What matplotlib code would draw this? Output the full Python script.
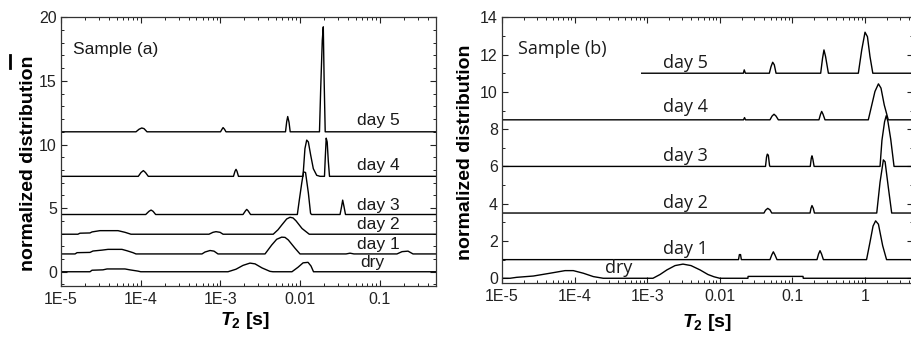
import numpy as np
import matplotlib
matplotlib.use("Agg")
import matplotlib.pyplot as plt
from matplotlib.ticker import FixedLocator, MultipleLocator, LogLocator, NullFormatter
from matplotlib.lines import Line2D

plt.rcParams["font.family"] = ["Liberation Sans", "DejaVu Sans"]
plt.rcParams["mathtext.fontset"] = "custom"
plt.rcParams["mathtext.it"] = "Liberation Sans:italic:bold"
plt.rcParams["mathtext.bf"] = "Liberation Sans:bold"
plt.rcParams["mathtext.rm"] = "Liberation Sans:bold"

# ── Daten: T2 [s] und Höhe über der jeweiligen Grundlinie ──

# Sample (a)
A_DRY_T2 = [1e-5, 2.31e-5, 2.45e-5, 3.36e-5, 3.78e-5, 6.35e-5, 7.3e-5, 9.25e-5, 1.0e-4,
            1.245e-3, 1.57e-3, 1.92e-3, 2.35e-3, 2.72e-3, 3.33e-3, 4.19e-3, 4.57e-3,
            7.9e-3, 9.4e-3, 0.0109, 0.01257, 0.0137, 0.01473, 0.6]
A_DRY_Y = [0, 0, 0.12, 0.15, 0.22, 0.22, 0.15, 0.05, 0,
           0, 0.2, 0.5, 0.68, 0.62, 0.3, 0.03, 0,
           0, 0.35, 0.7, 0.74, 0.45, 0, 0]

A_DAY1_T2 = [1e-5, 1.5e-5, 1.59e-5, 2.31e-5, 2.52e-5, 3.27e-5, 3.89e-5, 5.82e-5, 6.73e-5, 8.0e-5, 8.73e-5,
             5.87e-4, 6.41e-4, 7.41e-4, 8.31e-4, 9.33e-4,
             3.63e-3, 4.4e-3, 5.08e-3, 5.87e-3, 6.47e-3, 7.11e-3, 8.63e-3, 9.97e-3,
             0.0377, 0.0423, 0.0474,
             0.164, 0.19, 0.226, 0.261, 0.6]
A_DAY1_Y = [0, 0, 0.1, 0.12, 0.23, 0.3, 0.36, 0.36, 0.25, 0.1, 0,
            0, 0.15, 0.27, 0.22, 0,
            0, 0.7, 1.15, 1.32, 1.3, 1.1, 0.45, 0,
            0, 0.06, 0,
            0, 0.18, 0.22, 0, 0]

A_DAY2_T2 = [1e-5, 1.63e-5, 1.73e-5, 2.31e-5, 2.45e-5, 3.08e-5, 5.19e-5, 6.35e-5, 7.55e-5,
             7.19e-4, 8.07e-4, 8.8e-4, 9.9e-4, 1.08e-3,
             4.6e-3, 5.28e-3, 5.93e-3, 6.79e-3, 7.47e-3, 8.15e-3, 8.89e-3, 0.01057, 0.01303, 0.6]
A_DAY2_Y = [0, 0, 0.08, 0.1, 0.18, 0.28, 0.28, 0.15, 0,
            0, 0.15, 0.2, 0.15, 0,
            0, 0.35, 0.75, 1.2, 1.33, 1.28, 1.05, 0.45, 0, 0]

A_DAY3_T2 = [1e-5, 1.156e-4, 1.27e-4, 1.35e-4, 1.43e-4, 1.54e-4,
             1.92e-3, 2.07e-3, 2.14e-3, 2.22e-3, 2.39e-3,
             9.23e-3, 9.78e-3, 0.01047, 0.01104, 0.0117, 0.01269, 0.01352, 0.0139,
             0.0317, 0.0331, 0.0342, 0.0356, 0.0371, 0.6]
A_DAY3_Y = [0, 0, 0.25, 0.35, 0.25, 0,
            0, 0.3, 0.4, 0.3, 0,
            0, 1.15, 2.45, 3.35, 3.3, 1.7, 0.1, 0,
            0, 0.6, 1.13, 0.6, 0, 0]

A_DAY4_T2 = [1e-5, 9.33e-5, 1.009e-4, 1.08e-4, 1.148e-4, 1.245e-4,
             1.459e-3, 1.524e-3, 1.57e-3, 1.615e-3, 1.685e-3,
             0.01087, 0.0115, 0.0121, 0.01269, 0.01359, 0.01465, 0.01615, 0.01778,
             0.02022, 0.0207, 0.02125, 0.02187, 0.02258, 0.02338, 0.6]
A_DAY4_Y = [0, 0, 0.3, 0.45, 0.3, 0,
            0, 0.4, 0.55, 0.4, 0,
            0, 2.18, 2.85, 2.7, 1.65, 0.6, 0.08, 0,
            0, 1.5, 3.0, 2.7, 1.2, 0, 0]

A_DAY5_T2 = [1e-5, 8.73e-5, 9.53e-5, 1.03e-4, 1.1e-4, 1.2e-4,
             1.003e-3, 1.047e-3, 1.08e-3, 1.126e-3, 1.175e-3,
             6.56e-3, 6.79e-3, 6.99e-3, 7.26e-3, 7.51e-3,
             0.0175, 0.01813, 0.01898, 0.01954, 0.02, 0.02065, 0.6]
A_DAY5_Y = [0, 0, 0.2, 0.3, 0.25, 0,
            0, 0.2, 0.33, 0.2, 0,
            0, 0.8, 1.2, 0.75, 0,
            0, 3.4, 7.2, 8.25, 4.2, 0, 0]

# Sample (b)
B_DRY_T2 = [1e-5, 1.29e-5, 1.59e-5, 2.7e-5, 4.58e-5, 7.38e-5, 9.6e-5, 1.32e-4, 1.81e-4, 2.48e-4,
            1.2e-3, 1.5e-3, 1.87e-3, 2.42e-3, 3.11e-3, 4.01e-3, 5.33e-3, 6.88e-3, 8.32e-3, 0.01,
            0.0244, 0.0245, 0.14, 0.141, 6.0]
B_DRY_Y = [0, 0, 0.05, 0.12, 0.27, 0.41, 0.41, 0.27, 0.09, 0,
           0, 0.2, 0.45, 0.68, 0.76, 0.68, 0.45, 0.2, 0.08, 0,
           0, 0.1, 0.1, 0, 0]

B_DAY1_T2 = [1e-5, 0.0181, 0.0186, 0.0193, 0.0198,
             0.0491, 0.0519, 0.0546, 0.0575, 0.0613,
             0.218, 0.229, 0.24, 0.252, 0.267,
             1.05, 1.17, 1.29, 1.4, 1.53, 1.75, 1.98, 6.0]
B_DAY1_Y = [0, 0, 0.27, 0.27, 0,
            0, 0.25, 0.42, 0.25, 0,
            0, 0.3, 0.48, 0.3, 0,
            0, 0.93, 1.8, 2.08, 1.9, 0.75, 0, 0]

B_DAY2_T2 = [1e-5, 0.0406, 0.0426, 0.0457, 0.0491, 0.0519,
             0.175, 0.18, 0.186, 0.194, 0.201,
             1.45, 1.61, 1.79, 1.89, 2.09, 2.33, 6.0]
B_DAY2_Y = [0, 0, 0.15, 0.25, 0.17, 0,
            0, 0.25, 0.4, 0.25, 0,
            0, 1.65, 2.85, 2.75, 1.4, 0, 0]

B_DAY3_T2 = [1e-5, 0.0426, 0.044, 0.0451, 0.0466, 0.0484, 0.0491,
             0.176, 0.182, 0.186, 0.191, 0.199,
             1.61, 1.71, 1.86, 1.96, 2.07, 2.26, 2.51, 6.0]
B_DAY3_Y = [0, 0, 0.5, 0.66, 0.6, 0.05, 0,
            0, 0.45, 0.57, 0.4, 0,
            0, 1.4, 2.4, 2.72, 2.4, 1.46, 0, 0]

B_DAY4_T2 = [1e-5, 0.0212, 0.0219, 0.0226,
             0.0491, 0.0524, 0.0558, 0.0595, 0.064,
             0.232, 0.244, 0.253, 0.264, 0.281,
             1.11, 1.24, 1.37, 1.53, 1.66, 1.84, 2.09, 6.0]
B_DAY4_Y = [0, 0, 0.12, 0,
            0, 0.2, 0.3, 0.2, 0,
            0, 0.3, 0.45, 0.3, 0,
            0, 0.8, 1.52, 1.93, 1.7, 0.8, 0, 0]

B_DAY5_T2 = [8.4e-4, 0.0211, 0.0217, 0.0225,
             0.0481, 0.0507, 0.0535, 0.0563, 0.0595,
             0.245, 0.26, 0.272, 0.286, 0.313,
             0.809, 0.901, 1.0, 1.08, 1.17, 1.28, 6.0]
B_DAY5_Y = [0, 0, 0.18, 0,
            0, 0.35, 0.59, 0.45, 0,
            0, 0.8, 1.25, 0.9, 0,
            0, 1.25, 2.2, 1.96, 0.9, 0, 0]

LABELS = ["dry", "day 1", "day 2", "day 3", "day 4", "day 5"]
OFFSETS_A = [0, 1.4, 2.95, 4.5, 7.5, 11]
OFFSETS_B = [0, 1, 3.5, 6, 8.5, 11]

CURVES_A = [(A_DRY_T2, A_DRY_Y), (A_DAY1_T2, A_DAY1_Y), (A_DAY2_T2, A_DAY2_Y),
            (A_DAY3_T2, A_DAY3_Y), (A_DAY4_T2, A_DAY4_Y), (A_DAY5_T2, A_DAY5_Y)]
CURVES_B = [(B_DRY_T2, B_DRY_Y), (B_DAY1_T2, B_DAY1_Y), (B_DAY2_T2, B_DAY2_Y),
            (B_DAY3_T2, B_DAY3_Y), (B_DAY4_T2, B_DAY4_Y), (B_DAY5_T2, B_DAY5_Y)]

XTICKS = [1e-5, 1e-4, 1e-3, 1e-2, 1e-1, 1]
XTICKLABELS = ["1E-5", "1E-4", "1E-3", "0.01", "0.1", "1"]

# Textpositionen (x, y-Unterkante) in Datenkoordinaten
LABEL_POS_A = [(0.0575, 0.13), (0.052, 1.57), (0.052, 3.14), (0.052, 4.59), (0.052, 7.74), (0.052, 11.27)]
LABEL_POS_B = [(2.63e-4, 0.09), (1.67e-3, 1.07), (1.67e-3, 3.57), (1.67e-3, 6.08), (1.67e-3, 8.7), (1.67e-3, 11.09)]

W, H = 911, 337
fig = plt.figure(figsize=(W / 100, H / 100), dpi=100)


def px_axes(x0, x1, ytop, ybot):
    return fig.add_axes([x0 / W, 1 - ybot / H, (x1 - x0) / W, (ybot - ytop) / H])


def style_axes(ax, xlim, ylim, ymajor, yminor):
    ax.set_xscale("log")
    ax.set_xlim(*xlim)
    ax.set_ylim(*ylim)
    ax.xaxis.set_major_locator(FixedLocator(XTICKS))
    ax.set_xticklabels(XTICKLABELS)
    ax.xaxis.set_minor_locator(LogLocator(base=10, subs=np.arange(2, 10), numticks=20))
    ax.xaxis.set_minor_formatter(NullFormatter())
    ax.yaxis.set_major_locator(MultipleLocator(ymajor))
    ax.yaxis.set_minor_locator(MultipleLocator(yminor))
    ax.tick_params(which="both", direction="in", top=True, right=True,
                   colors="#222222", labelsize=11.5)
    ax.tick_params(which="major", length=4.5, width=0.8)
    ax.tick_params(which="minor", length=2.5, width=0.7)
    ax.tick_params(axis="x", pad=4)
    ax.tick_params(axis="y", pad=3)
    for sp in ax.spines.values():
        sp.set_color("#333333")
        sp.set_linewidth(0.9)


# ── Panel (a) ──
ax_a = px_axes(61, 436, 17.3, 286)
for (t2, y), off in zip(CURVES_A, OFFSETS_A):
    ax_a.plot(t2, off + np.array(y), color="black", lw=1.0)
style_axes(ax_a, (1e-5, 0.507), (-1.12, 20), 5, 1)
for lbl, (x, y) in zip(LABELS, LABEL_POS_A):
    ax_a.text(x, y, lbl, fontsize=12.5, ha="left", va="bottom", color="#1a1a1a")
ax_a.text(1.43e-5, 17.5, "Sample (a)", fontsize=12.5, ha="left", va="center", color="#1a1a1a")

# ── Panel (b) ──
ax_b = px_axes(502, 913, 17.3, 283.3)
for (t2, y), off in zip(CURVES_B, OFFSETS_B):
    ax_b.plot(t2, off + np.array(y), color="black", lw=1.0)
style_axes(ax_b, (1e-5, 4.58), (-0.27, 14), 2, 1)
for lbl, (x, y) in zip(LABELS, LABEL_POS_B):
    ax_b.text(x, y, lbl, fontsize=13, ha="left", va="bottom", color="#1a1a1a",
              family="Open Sans")
ax_b.text(1.68e-5, 12.3, "Sample (b)", fontsize=13, ha="left", va="center", color="#1a1a1a",
          family="Open Sans")

# ── Achsenbeschriftungen ──
for xc, yc in [(28.5, 163.5), (465, 152.4)]:
    fig.text(xc / W, 1 - yc / H, "normalized distribution", rotation=90,
             ha="center", va="center", fontsize=14, fontweight="bold")
for xc, yb in [(245, 325), (707.5, 326.7)]:
    fig.text(xc / W, 1 - yb / H, r"$\mathit{T}_{\mathbf{2}}$ [s]", ha="center",
             va="baseline", fontsize=14, fontweight="bold")

fig.add_artist(Line2D([10 / W, 10 / W], [1 - 55 / H, 1 - 68 / H], color="black", lw=2))

fig.savefig("out.png", dpi=100)
